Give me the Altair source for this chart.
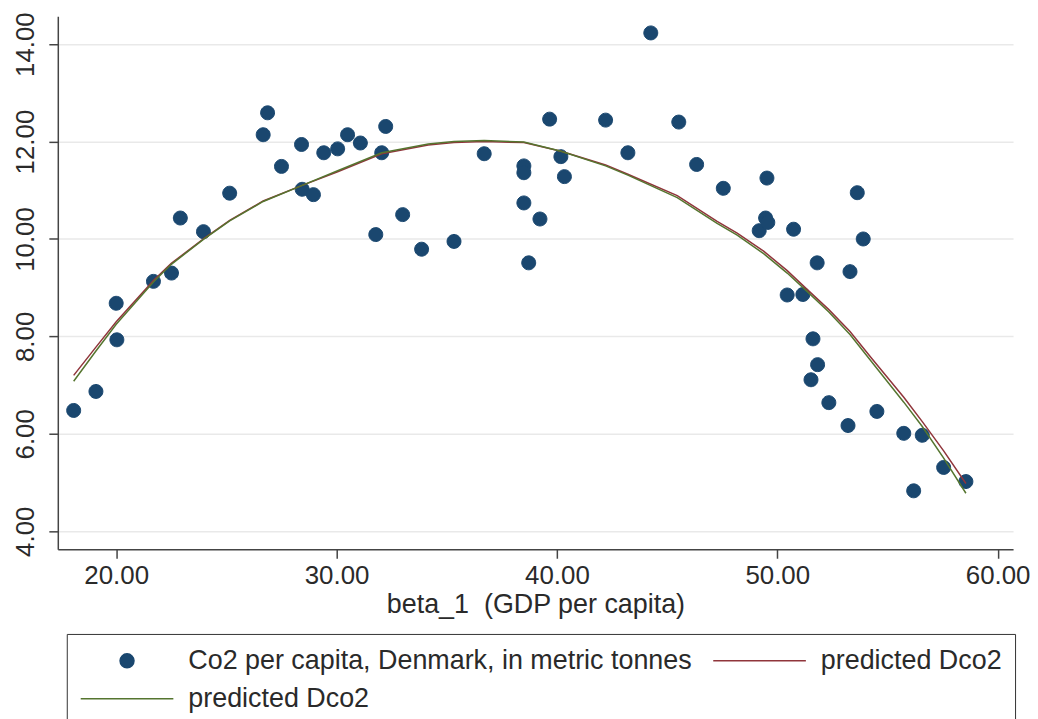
import altair as alt
import pandas as pd

# ---- data ----
gdp = [18.07, 19.08, 20.00, 20.03, 21.69, 22.51, 22.91, 23.96, 25.15, 26.67,
       26.87, 27.50, 28.41, 28.44, 28.95, 29.42, 30.05, 30.50, 31.08, 31.78,
       32.05, 32.23, 33.00, 33.86, 35.33, 36.70, 38.50, 38.50, 38.50, 38.72,
       39.23, 39.67, 40.18, 40.34, 42.21, 43.22, 44.26, 45.53, 46.34, 47.55,
       49.18, 49.47, 49.53, 49.57, 50.45, 50.74, 51.16, 51.53, 51.62, 51.81,
       51.83, 52.34, 53.21, 53.30, 53.63, 53.90, 54.52, 55.74, 56.19, 56.58,
       57.55, 58.56]
co2 = [6.48, 6.87, 8.68, 7.93, 9.13, 9.30, 10.43, 10.15, 10.94, 12.14,
       12.59, 11.49, 11.94, 11.02, 10.91, 11.77, 11.85, 12.14, 11.97, 10.09,
       11.77, 12.31, 10.50, 9.79, 9.95, 11.75, 11.50, 11.36, 10.74, 9.51,
       10.41, 12.46, 11.69, 11.28, 12.44, 11.77, 14.23, 12.40, 11.53, 11.04,
       10.17, 10.43, 11.25, 10.34, 8.85, 10.20, 8.86, 7.11, 7.95, 9.51,
       7.42, 6.64, 6.17, 9.33, 10.95, 10.00, 6.46, 6.01, 4.83, 5.97,
       5.31, 5.02]

pred_x = [18.07, 19.08, 20.00, 21.70, 22.50, 23.96, 25.15, 26.67, 28.44, 30.05,
          32.05, 34.16, 35.33, 36.70, 38.50, 40.19, 42.21, 43.22, 45.46, 47.27,
          48.18, 49.38, 50.45, 51.34, 52.34, 53.30, 54.28, 55.74, 56.58, 57.55,
          58.56]
pred_red = [7.20, 7.78, 8.30, 9.15, 9.50, 10.00, 10.38, 10.78, 11.10, 11.38,
            11.75, 11.93, 11.98, 12.00, 11.98, 11.80, 11.52, 11.33, 10.89, 10.36,
            10.12, 9.75, 9.35, 8.97, 8.55, 8.10, 7.55, 6.75, 6.25, 5.65,
            4.98]
pred_green = [7.08, 7.70, 8.25, 9.12, 9.48, 9.99, 10.37, 10.77, 11.10, 11.40,
              11.77, 11.95, 12.00, 12.02, 11.99, 11.80, 11.50, 11.31, 10.85, 10.32,
              10.08, 9.70, 9.30, 8.93, 8.50, 8.04, 7.48, 6.65, 6.15, 5.50,
              4.78]

series_names = ["Co2 per capita, Denmark, in metric tonnes",
                "predicted Dco2", "predicted Dco2 "]
series_colors = ["#1a476f", "#90353b", "#55752f"]
x_ticks = [20, 30, 40, 50, 60]
y_ticks = [4, 6, 8, 10, 12, 14]

FONT = "Liberation Sans"
TEXT = "#2a2a2a"
AXIS = "#444444"

pts = pd.DataFrame({"gdp": gdp, "val": co2, "series": series_names[0]})
lines_df = pd.concat([
    pd.DataFrame({"gdp": pred_x, "val": pred_red, "series": series_names[1], "o": 0}),
    pd.DataFrame({"gdp": pred_x, "val": pred_green, "series": series_names[2], "o": 1}),
])

# symbol shapes (unit coordinates; scaled by sqrt(size)/2)
circle_path = "M0.529,0A0.529,0.529,0,1,1,-0.529,0A0.529,0.529,0,1,1,0.529,0Z"
line_path = "M-3.515,0L3.515,0"
SYM_SIZE = 700

leg = alt.Legend(
    title=None, orient="none", legendX=9, legendY=620, columns=2,
    direction="horizontal",
    columnPadding=18, rowPadding=11, padding=13,
    symbolSize=SYM_SIZE, symbolStrokeWidth=1.5, symbolOffset=33.5, symbolOpacity=1,
    symbolFillColor="transparent",
    labelOffset=47.5, labelFont=FONT, labelFontSize=27, labelColor=TEXT,
    labelLimit=0, strokeColor="#333333", fillColor="white",
)

xscale = alt.Scale(domain=[17.35, 60.7], nice=False, zero=False)
yscale = alt.Scale(domain=[3.63, 14.57], nice=False, zero=False)

xaxis = alt.Axis(values=x_ticks, format=".2f", grid=False, tickSize=9,
                 labelFont=FONT, labelFontSize=26, labelColor=TEXT,
                 labelPadding=4, labelFlush=False,
                 title="beta_1 \u00a0(GDP per capita)", titleFont=FONT,
                 titleFontSize=27, titleFontWeight="normal", titleColor=TEXT,
                 titlePadding=3, domainColor=AXIS, tickColor=AXIS,
                 domainWidth=1.5, tickWidth=1.5)
yaxis = alt.Axis(values=y_ticks, format=".2f", grid=True, gridColor="#e9e9e9",
                 gridWidth=1.5, tickSize=9, labelAngle=270, labelAlign="center",
                 labelBaseline="alphabetic", labelPadding=15,
                 labelFont=FONT, labelFontSize=26, labelColor=TEXT,
                 title=None, domainColor=AXIS, tickColor=AXIS,
                 domainWidth=1.5, tickWidth=1.5)

fill_scale = alt.Scale(domain=series_names,
                       range=[series_colors[0], "transparent", "transparent"])
stroke_scale = alt.Scale(domain=series_names, range=series_colors)
shape_scale = alt.Scale(domain=series_names,
                        range=[circle_path, line_path, line_path])

points = alt.Chart(pts).mark_point(filled=True, opacity=1, size=SYM_SIZE,
                                   strokeWidth=1).encode(
    x=alt.X("gdp:Q", scale=xscale, axis=xaxis),
    y=alt.Y("val:Q", scale=yscale, axis=yaxis),
    fill=alt.Fill("series:N", scale=fill_scale, legend=leg),
    stroke=alt.Stroke("series:N", scale=stroke_scale, legend=leg),
    shape=alt.Shape("series:N", scale=shape_scale, legend=leg),
)

lines = alt.Chart(lines_df).mark_line(strokeWidth=1.5).encode(
    x=alt.X("gdp:Q", scale=xscale, axis=xaxis),
    y=alt.Y("val:Q", scale=yscale, axis=yaxis),
    stroke=alt.Stroke("series:N", scale=stroke_scale, legend=leg),
    order=alt.Order("o:Q"),
)

chart = alt.layer(points, lines).properties(
    width=959, height=535,
    padding={"left": 50, "top": 7, "right": 17, "bottom": 169},
    autosize=alt.AutoSizeParams(type="none"),
).configure(background="white").configure_view(strokeWidth=0)

chart.save("out.html", embed_options={"renderer": "svg", "actions": False})
